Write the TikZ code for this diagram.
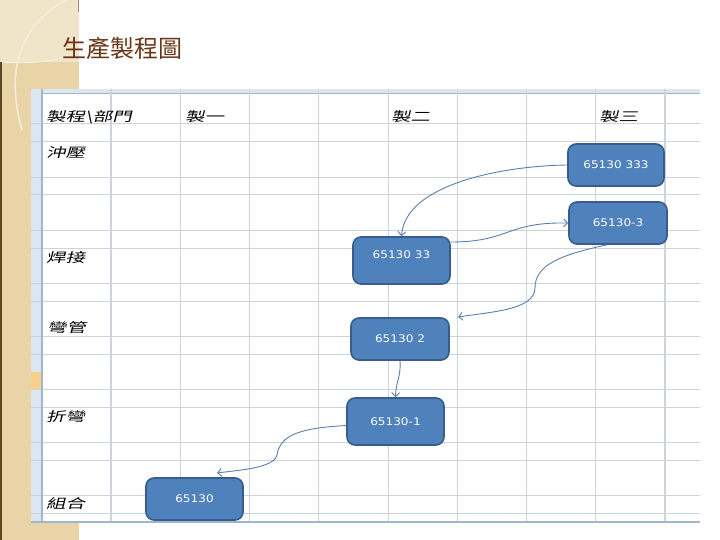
\documentclass[tikz,border=0pt]{standalone}
\usepackage{fontspec}
\usetikzlibrary{arrows.meta}
\newfontfamily\cjklab[FakeSlant=0.25,FakeStretch=1.5]{Noto Sans CJK TC}
\newfontfamily\cjktitle{Noto Sans CJK TC}
\newfontfamily\boxfont[FakeStretch=1.15]{DejaVu Sans}
\definecolor{bandA}{HTML}{E8D4A6}
\definecolor{bandB}{HTML}{F1E5C9}
\definecolor{bandarc}{HTML}{F7EEDB}
\definecolor{bandline}{HTML}{5E4526}
\definecolor{titlec}{HTML}{6A3416}
\definecolor{gridc}{HTML}{CDD3DD}
\definecolor{hdrfill}{HTML}{DCE6F1}
\definecolor{hdrline}{HTML}{9EB6CE}
\definecolor{boxfill}{HTML}{4F81BD}
\definecolor{boxline}{HTML}{385D8A}
\definecolor{arrowc}{HTML}{5B80B0}
\definecolor{selc}{HTML}{F9CF8E}
\tikzset{
  gridline/.style={draw=gridc,line width=1pt},
  gridthick/.style={draw=gridc,line width=2pt},
  lab/.style={font=\cjklab\fontsize{13}{13}\selectfont,anchor=west,inner sep=0pt,text=black},
  pbox/.style={draw=boxline,fill=boxfill,line width=1.6pt,rounded corners=8pt,
    text=white,font=\boxfont\fontsize{10.5}{11}\selectfont,inner sep=0pt},
  flow/.style={draw=arrowc,line width=0.9pt,-{Straight Barb[length=4pt,width=8pt]}}
}
\begin{document}
\begin{tikzpicture}[x=1pt,y=-1pt]
\useasboundingbox (0,0) rectangle (720,540);
\fill[white] (0,0) rectangle (720,540);
% decorative band
\fill[bandA] (0,0) rectangle (79,540);
\fill[bandB] (0,0) rectangle (79,62);
\draw[bandarc,line width=1.5pt] (66,0) .. controls (20,25) and (5,70) .. (22,130);
\draw[bandarc,line width=1pt] (0,62) .. controls (30,64) and (60,62) .. (79,50);
\fill[bandline] (0,62) rectangle (2,540);
\draw[bandline!60,line width=0.8pt] (78.5,0) -- (78.5,12);
% title
\node[font=\cjktitle\fontsize{24}{24}\selectfont,text=titlec,inner sep=0pt] (title) at (122.5,48) {生產製程圖};
% spreadsheet
\fill[white] (31,89) rectangle (700,522);
\fill[hdrfill] (31,89) rectangle (700,93);
\draw[hdrline,line width=0.8pt] (31,93) -- (700,93);
\fill[hdrfill] (31,93) rectangle (42,522);
\fill[selc] (31,372) rectangle (42,389);
\foreach \y in {124,142,178,195,231,248,283,301,336,354,389,407,442,460,495,513}
  \draw[gridline] (31,\y) -- (700,\y);
\foreach \x in {180,249,318,388,457,526,595}
  \draw[gridline] (\x,89) -- (\x,522);
\draw[gridthick] (111,89) -- (111,522);
\draw[gridthick] (665,89) -- (665,522);
\draw[hdrline,line width=1.2pt] (42,89) -- (42,522);
\draw[hdrline,line width=2pt] (31,522) -- (700,522);
% labels
\node[lab] (h0) at (46,117) {製程\textbackslash 部門};
\node[lab] (h1) at (185,117) {製一};
\node[lab] (h2) at (391,117) {製二};
\node[lab] (h3) at (599,117) {製三};
\node[lab] (r1) at (46,153) {沖壓};
\node[lab] (r2) at (46,258) {焊接};
\node[lab] (r3) at (47,328) {彎管};
\node[lab] (r4) at (46,417) {折彎};
\node[lab] (r5) at (46,504) {組合};
% process boxes
\node[pbox,minimum width=96pt,minimum height=42pt] (B1) at (616,165) {65130 333};
\node[pbox,minimum width=98pt,minimum height=42pt] (B2) at (618,223) {65130-3};
\node[pbox,minimum width=97pt,minimum height=47pt] (B3) at (401.5,260.5) {\raisebox{11pt}{65130 33}};
\node[pbox,minimum width=98pt,minimum height=42pt] (B4) at (400,339) {65130 2};
\node[pbox,minimum width=97pt,minimum height=47pt] (B5) at (395.5,421.5) {65130-1};
\node[pbox,minimum width=97pt,minimum height=42pt] (B6) at (194.5,499) {65130};
\coordinate (c3) at (458,317);
\coordinate (c6) at (217,473);
% connectors
\draw[flow] (B1.west) .. controls (500,166) and (405,185) .. (B3.north);
\draw[flow] ([yshift=18.5pt]B3.east) .. controls (510,242) and (505,222) .. (B2.west);
\draw[flow] ([xshift=-11pt]B2.south) .. controls (560,255) and (535,265) .. (535,288) .. controls (535,310) and (490,312) .. (c3);
\draw[flow] (B4.south) .. controls (401,378) and (396,380) .. (B5.north);
\draw[flow] ([yshift=-4pt]B5.west) .. controls (300,428) and (280,435) .. (277,455) .. controls (274,468) and (240,470) .. (c6);
\end{tikzpicture}
\end{document}
